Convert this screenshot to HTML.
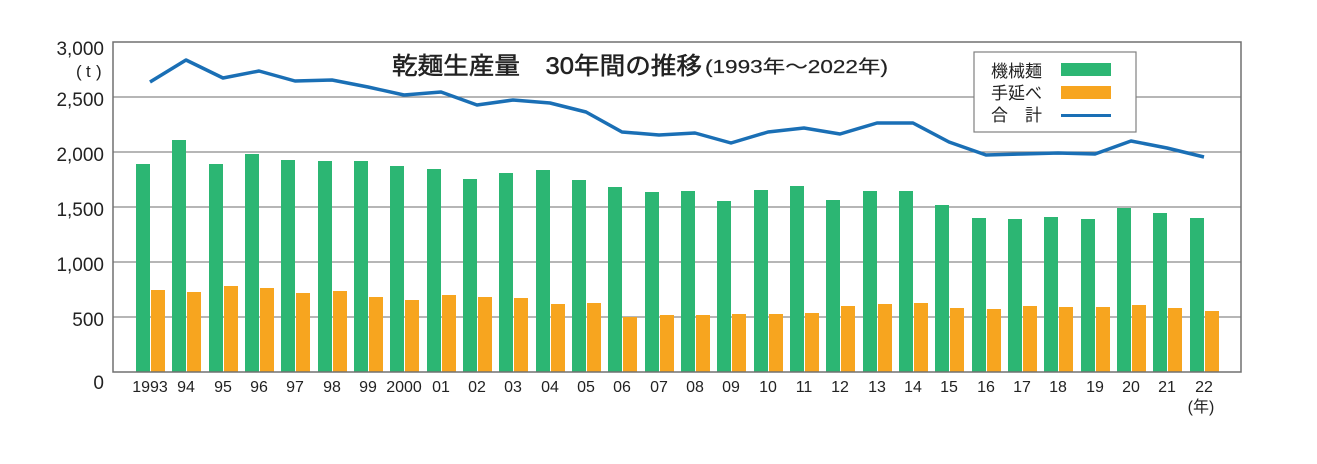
<!DOCTYPE html>
<html><head><meta charset="utf-8"><style>
html,body{margin:0;padding:0;background:#fff;}
svg{display:block;font-family:"Liberation Sans","Noto Sans CJK JP",sans-serif;}
</style></head><body>
<svg width="1317" height="464" viewBox="0 0 1317 464" xmlns="http://www.w3.org/2000/svg">
<g stroke="#8a8a8a" stroke-width="1.2">
<line x1="113" y1="97" x2="1241" y2="97"/>
<line x1="113" y1="152" x2="1241" y2="152"/>
<line x1="113" y1="207" x2="1241" y2="207"/>
<line x1="113" y1="262" x2="1241" y2="262"/>
<line x1="113" y1="317" x2="1241" y2="317"/>
</g>
<g fill="#2cb673">
<rect x="136" y="164" width="14" height="208"/>
<rect x="172" y="140" width="14" height="232"/>
<rect x="209" y="164" width="14" height="208"/>
<rect x="245" y="154" width="14" height="218"/>
<rect x="281" y="160" width="14" height="212"/>
<rect x="318" y="161" width="14" height="211"/>
<rect x="354" y="161" width="14" height="211"/>
<rect x="390" y="166" width="14" height="206"/>
<rect x="427" y="169" width="14" height="203"/>
<rect x="463" y="179" width="14" height="193"/>
<rect x="499" y="173" width="14" height="199"/>
<rect x="536" y="170" width="14" height="202"/>
<rect x="572" y="180" width="14" height="192"/>
<rect x="608" y="187" width="14" height="185"/>
<rect x="645" y="192" width="14" height="180"/>
<rect x="681" y="191" width="14" height="181"/>
<rect x="717" y="201" width="14" height="171"/>
<rect x="754" y="190" width="14" height="182"/>
<rect x="790" y="186" width="14" height="186"/>
<rect x="826" y="200" width="14" height="172"/>
<rect x="863" y="191" width="14" height="181"/>
<rect x="899" y="191" width="14" height="181"/>
<rect x="935" y="205" width="14" height="167"/>
<rect x="972" y="218" width="14" height="154"/>
<rect x="1008" y="219" width="14" height="153"/>
<rect x="1044" y="217" width="14" height="155"/>
<rect x="1081" y="219" width="14" height="153"/>
<rect x="1117" y="208" width="14" height="164"/>
<rect x="1153" y="213" width="14" height="159"/>
<rect x="1190" y="218" width="14" height="154"/>
</g>
<g fill="#f7a51f">
<rect x="151" y="290" width="14" height="82"/>
<rect x="187" y="292" width="14" height="80"/>
<rect x="224" y="286" width="14" height="86"/>
<rect x="260" y="288" width="14" height="84"/>
<rect x="296" y="293" width="14" height="79"/>
<rect x="333" y="291" width="14" height="81"/>
<rect x="369" y="297" width="14" height="75"/>
<rect x="405" y="300" width="14" height="72"/>
<rect x="442" y="295" width="14" height="77"/>
<rect x="478" y="297" width="14" height="75"/>
<rect x="514" y="298" width="14" height="74"/>
<rect x="551" y="304" width="14" height="68"/>
<rect x="587" y="303" width="14" height="69"/>
<rect x="623" y="317" width="14" height="55"/>
<rect x="660" y="315" width="14" height="57"/>
<rect x="696" y="315" width="14" height="57"/>
<rect x="732" y="314" width="14" height="58"/>
<rect x="769" y="314" width="14" height="58"/>
<rect x="805" y="313" width="14" height="59"/>
<rect x="841" y="306" width="14" height="66"/>
<rect x="878" y="304" width="14" height="68"/>
<rect x="914" y="303" width="14" height="69"/>
<rect x="950" y="308" width="14" height="64"/>
<rect x="987" y="309" width="14" height="63"/>
<rect x="1023" y="306" width="14" height="66"/>
<rect x="1059" y="307" width="14" height="65"/>
<rect x="1096" y="307" width="14" height="65"/>
<rect x="1132" y="305" width="14" height="67"/>
<rect x="1168" y="308" width="14" height="64"/>
<rect x="1205" y="311" width="14" height="61"/>
</g>
<polyline fill="none" stroke="#1a6fb5" stroke-width="3.5" stroke-linejoin="round" points="150,82 186,60 223,78 259,71 295,81 332,80 368,87 404,95 441,92 477,105 513,100 550,103 586,112 622,132 659,135 695,133 731,143 768,132 804,128 840,134 877,123 913,123 949,142 986,155 1022,154 1058,153 1095,154 1131,141 1167,148 1204,157"/>
<rect x="113" y="42" width="1128" height="330" fill="none" stroke="#707070" stroke-width="1.5"/>
<rect x="974" y="52" width="162" height="80" fill="#fff" stroke="#808080" stroke-width="1.2"/>
<g font-size="17" fill="#222">
<text x="991" y="77">機械麺</text>
<text x="991" y="99">手延べ</text>
<text x="991" y="121">合</text><text x="1025" y="121">計</text>
</g>
<rect x="1061" y="63" width="50" height="13" fill="#2cb673"/>
<rect x="1061" y="86" width="50" height="13" fill="#f7a51f"/>
<rect x="1061" y="114" width="50" height="3" fill="#1a6fb5"/>
<text x="392" y="74" font-size="24" fill="#222" stroke="#222" stroke-width="0.5" textLength="310" lengthAdjust="spacingAndGlyphs">乾麺生産量　30年間の推移</text>
<text x="705" y="73" font-size="18" fill="#222" stroke="#222" stroke-width="0.2" textLength="183" lengthAdjust="spacingAndGlyphs">(1993年～2022年)</text>
<g font-size="19" fill="#222" text-anchor="end">
<text x="104" y="55">3,000</text>
<text x="104" y="106">2,500</text>
<text x="104" y="161">2,000</text>
<text x="104" y="216">1,500</text>
<text x="104" y="271">1,000</text>
<text x="104" y="326">500</text>
<text x="104" y="389">0</text>
</g>
<text x="76" y="77" font-size="17" fill="#222">(</text><text x="86" y="77" font-size="17" fill="#222">t</text><text x="96" y="77" font-size="17" fill="#222">)</text>
<g font-size="16" fill="#222" text-anchor="middle">
<text x="150" y="392">1993</text><text x="186" y="392">94</text><text x="223" y="392">95</text><text x="259" y="392">96</text><text x="295" y="392">97</text><text x="332" y="392">98</text><text x="368" y="392">99</text><text x="404" y="392">2000</text><text x="441" y="392">01</text><text x="477" y="392">02</text><text x="513" y="392">03</text><text x="550" y="392">04</text><text x="586" y="392">05</text><text x="622" y="392">06</text><text x="659" y="392">07</text><text x="695" y="392">08</text><text x="731" y="392">09</text><text x="768" y="392">10</text><text x="804" y="392">11</text><text x="840" y="392">12</text><text x="877" y="392">13</text><text x="913" y="392">14</text><text x="949" y="392">15</text><text x="986" y="392">16</text><text x="1022" y="392">17</text><text x="1058" y="392">18</text><text x="1095" y="392">19</text><text x="1131" y="392">20</text><text x="1167" y="392">21</text><text x="1204" y="392">22</text>
<text x="1201" y="412">(年)</text>
</g>
</svg>
</body></html>
